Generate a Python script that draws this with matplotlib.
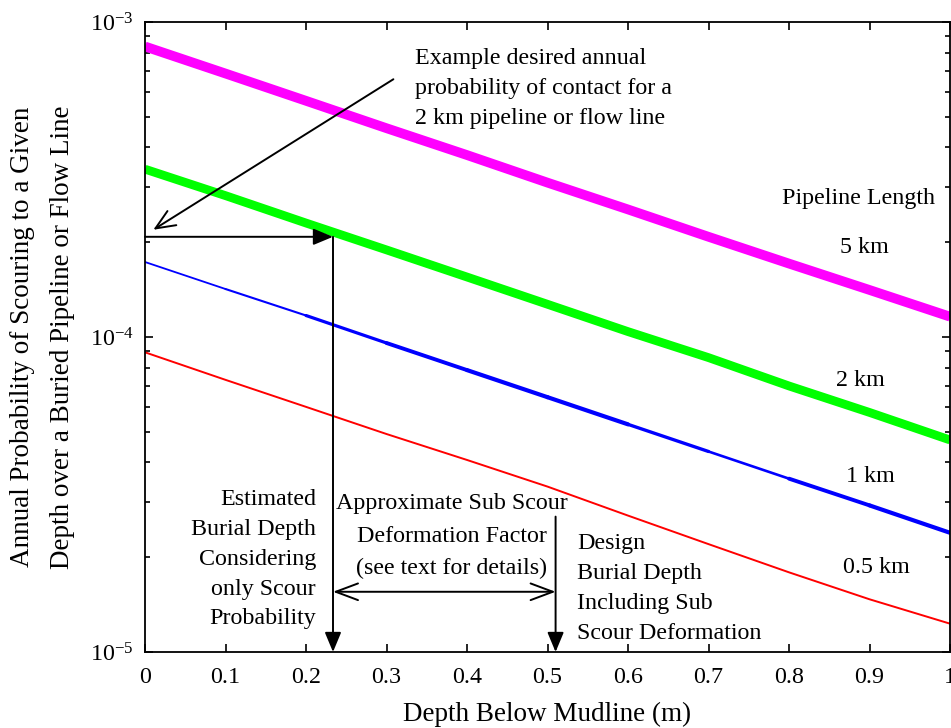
import numpy as np
import matplotlib.pyplot as plt

# ====== Data ======
depth = [0.0, 0.1, 0.2, 0.3, 0.4, 0.5, 0.6, 0.7, 0.8, 0.9, 1.0]

p_5km = [8.36e-4, 6.86e-4, 5.62e-4, 4.60e-4, 3.78e-4, 3.09e-4,
         2.54e-4, 2.08e-4, 1.71e-4, 1.41e-4, 1.16e-4]
p_2km = [3.41e-4, 2.81e-4, 2.30e-4, 1.89e-4, 1.55e-4, 1.27e-4,
         1.04e-4, 8.60e-5, 6.99e-5, 5.76e-5, 4.71e-5]
p_1km = [1.73e-4, 1.42e-4, 1.17e-4, 9.57e-5, 7.85e-5, 6.44e-5,
         5.28e-5, 4.33e-5, 3.55e-5, 2.92e-5, 2.39e-5]
p_05km = [8.94e-5, 7.31e-5, 6.00e-5, 4.92e-5, 4.07e-5, 3.35e-5,
          2.71e-5, 2.20e-5, 1.79e-5, 1.47e-5, 1.23e-5]

# design example
target_prob = 2.08e-4
scour_depth = 0.2335
design_depth = 0.51

plt.rcParams['font.family'] = ['Liberation Serif', 'DejaVu Serif']
plt.rcParams['mathtext.fontset'] = 'custom'
plt.rcParams['mathtext.rm'] = 'Liberation Serif'

fig = plt.figure(figsize=(9.51, 7.28), dpi=100)
ax = fig.add_axes([0.1525, 0.1044, 0.8465, 0.8654])

# ===== curves =====
ax.plot(depth, p_5km, color='#ff00ff', lw=7, solid_capstyle='butt')
ax.plot(depth, p_2km, color='#00ff00', lw=6.3, solid_capstyle='butt')
# blue curve drawn piecewise: its thickness varies in the original
blue_lw = [1.3, 1.5, 2.3, 2.8, 3.0, 3.0, 2.4, 1.9, 2.8, 3.0]
for i in range(len(depth) - 1):
    ax.plot(depth[i:i + 2], p_1km[i:i + 2], color='#0000ff', lw=blue_lw[i],
            solid_capstyle='round')
ax.plot(depth, p_05km, color='#ff0000', lw=1.4)

# ===== annotations =====
fs = 17.3
filled = dict(arrowstyle='-|>,head_length=0.6,head_width=0.25', color='black',
              lw=1.4, mutation_scale=20, shrinkA=0, shrinkB=0)
ax.annotate('', xy=(scour_depth, target_prob), xytext=(0, target_prob), arrowprops=filled)
ax.annotate('', xy=(scour_depth, 1e-5), xytext=(scour_depth, target_prob), arrowprops=filled)
ax.annotate('', xy=(design_depth, 1e-5), xytext=(design_depth, 2.69e-5), arrowprops=filled)
ax.annotate('', xy=(0.0103, 2.19e-4), xytext=(0.3085, 6.58e-4),
            arrowprops=dict(arrowstyle='->,head_length=0.7,head_width=0.3', color='black',
                            lw=1.4, mutation_scale=20, shrinkA=0, shrinkB=0))
ax.annotate('', xy=(design_depth, 1.553e-5), xytext=(scour_depth, 1.553e-5),
            arrowprops=dict(arrowstyle='<->,head_length=0.8,head_width=0.3', color='black',
                            lw=1.4, mutation_scale=20, shrinkA=0, shrinkB=0))

ax.text(0.335, 6.15e-4, 'Example desired annual\nprobability of contact for a\n2 km pipeline or flow line',
        ha='left', va='center', fontsize=fs, linespacing=1.55)
ax.text(0.886, 2.76e-4, 'Pipeline Length', ha='center', va='center', fontsize=fs)
ax.text(0.894, 1.92e-4, '5 km', ha='center', va='center', fontsize=fs)
ax.text(0.889, 7.25e-5, '2 km', ha='center', va='center', fontsize=fs)
ax.text(0.901, 3.60e-5, '1 km', ha='center', va='center', fontsize=fs)
ax.text(0.909, 1.85e-5, '0.5 km', ha='center', va='center', fontsize=fs)
ax.text(0.2124, 1.97e-5, 'Estimated\nBurial Depth\nConsidering\nonly Scour\nProbability',
        ha='right', va='center', multialignment='right', fontsize=fs, linespacing=1.55)
ax.text(0.381, 2.33e-5, 'Approximate Sub Scour\nDeformation Factor\n(see text for details)',
        ha='center', va='center', multialignment='center', fontsize=fs, linespacing=1.72)
ax.text(0.537, 1.59e-5, 'Design\nBurial Depth\nIncluding Sub\nScour Deformation',
        ha='left', va='center', fontsize=fs, linespacing=1.55)

# ===== axes =====
ax.set_yscale('log')
ax.set_xlim(0, 1)
ax.set_ylim(1e-5, 1e-3)
ax.set_xticks(np.arange(0, 1.01, 0.1))
ax.set_xticklabels(['0', '0.1', '0.2', '0.3', '0.4', '0.5', '0.6', '0.7', '0.8', '0.9', '1'])
ax.tick_params(which='both', direction='in', top=True, right=True, labelsize=fs, width=1.2)
ax.tick_params(axis='x', which='major', length=6, pad=11)
ax.tick_params(axis='y', which='major', length=6, pad=8)
ax.tick_params(axis='y', which='minor', length=3.5)
for s in ax.spines.values():
    s.set_linewidth(1.3)

ax.set_xlabel('Depth Below Mudline (m)', fontsize=19.5, labelpad=10)
ax.set_ylabel('Annual Probability of Scouring to a Given\nDepth over a Buried Pipeline or Flow Line',
              fontsize=19.5, linespacing=1.75, labelpad=11)

fig.savefig('out.png', dpi=100)
